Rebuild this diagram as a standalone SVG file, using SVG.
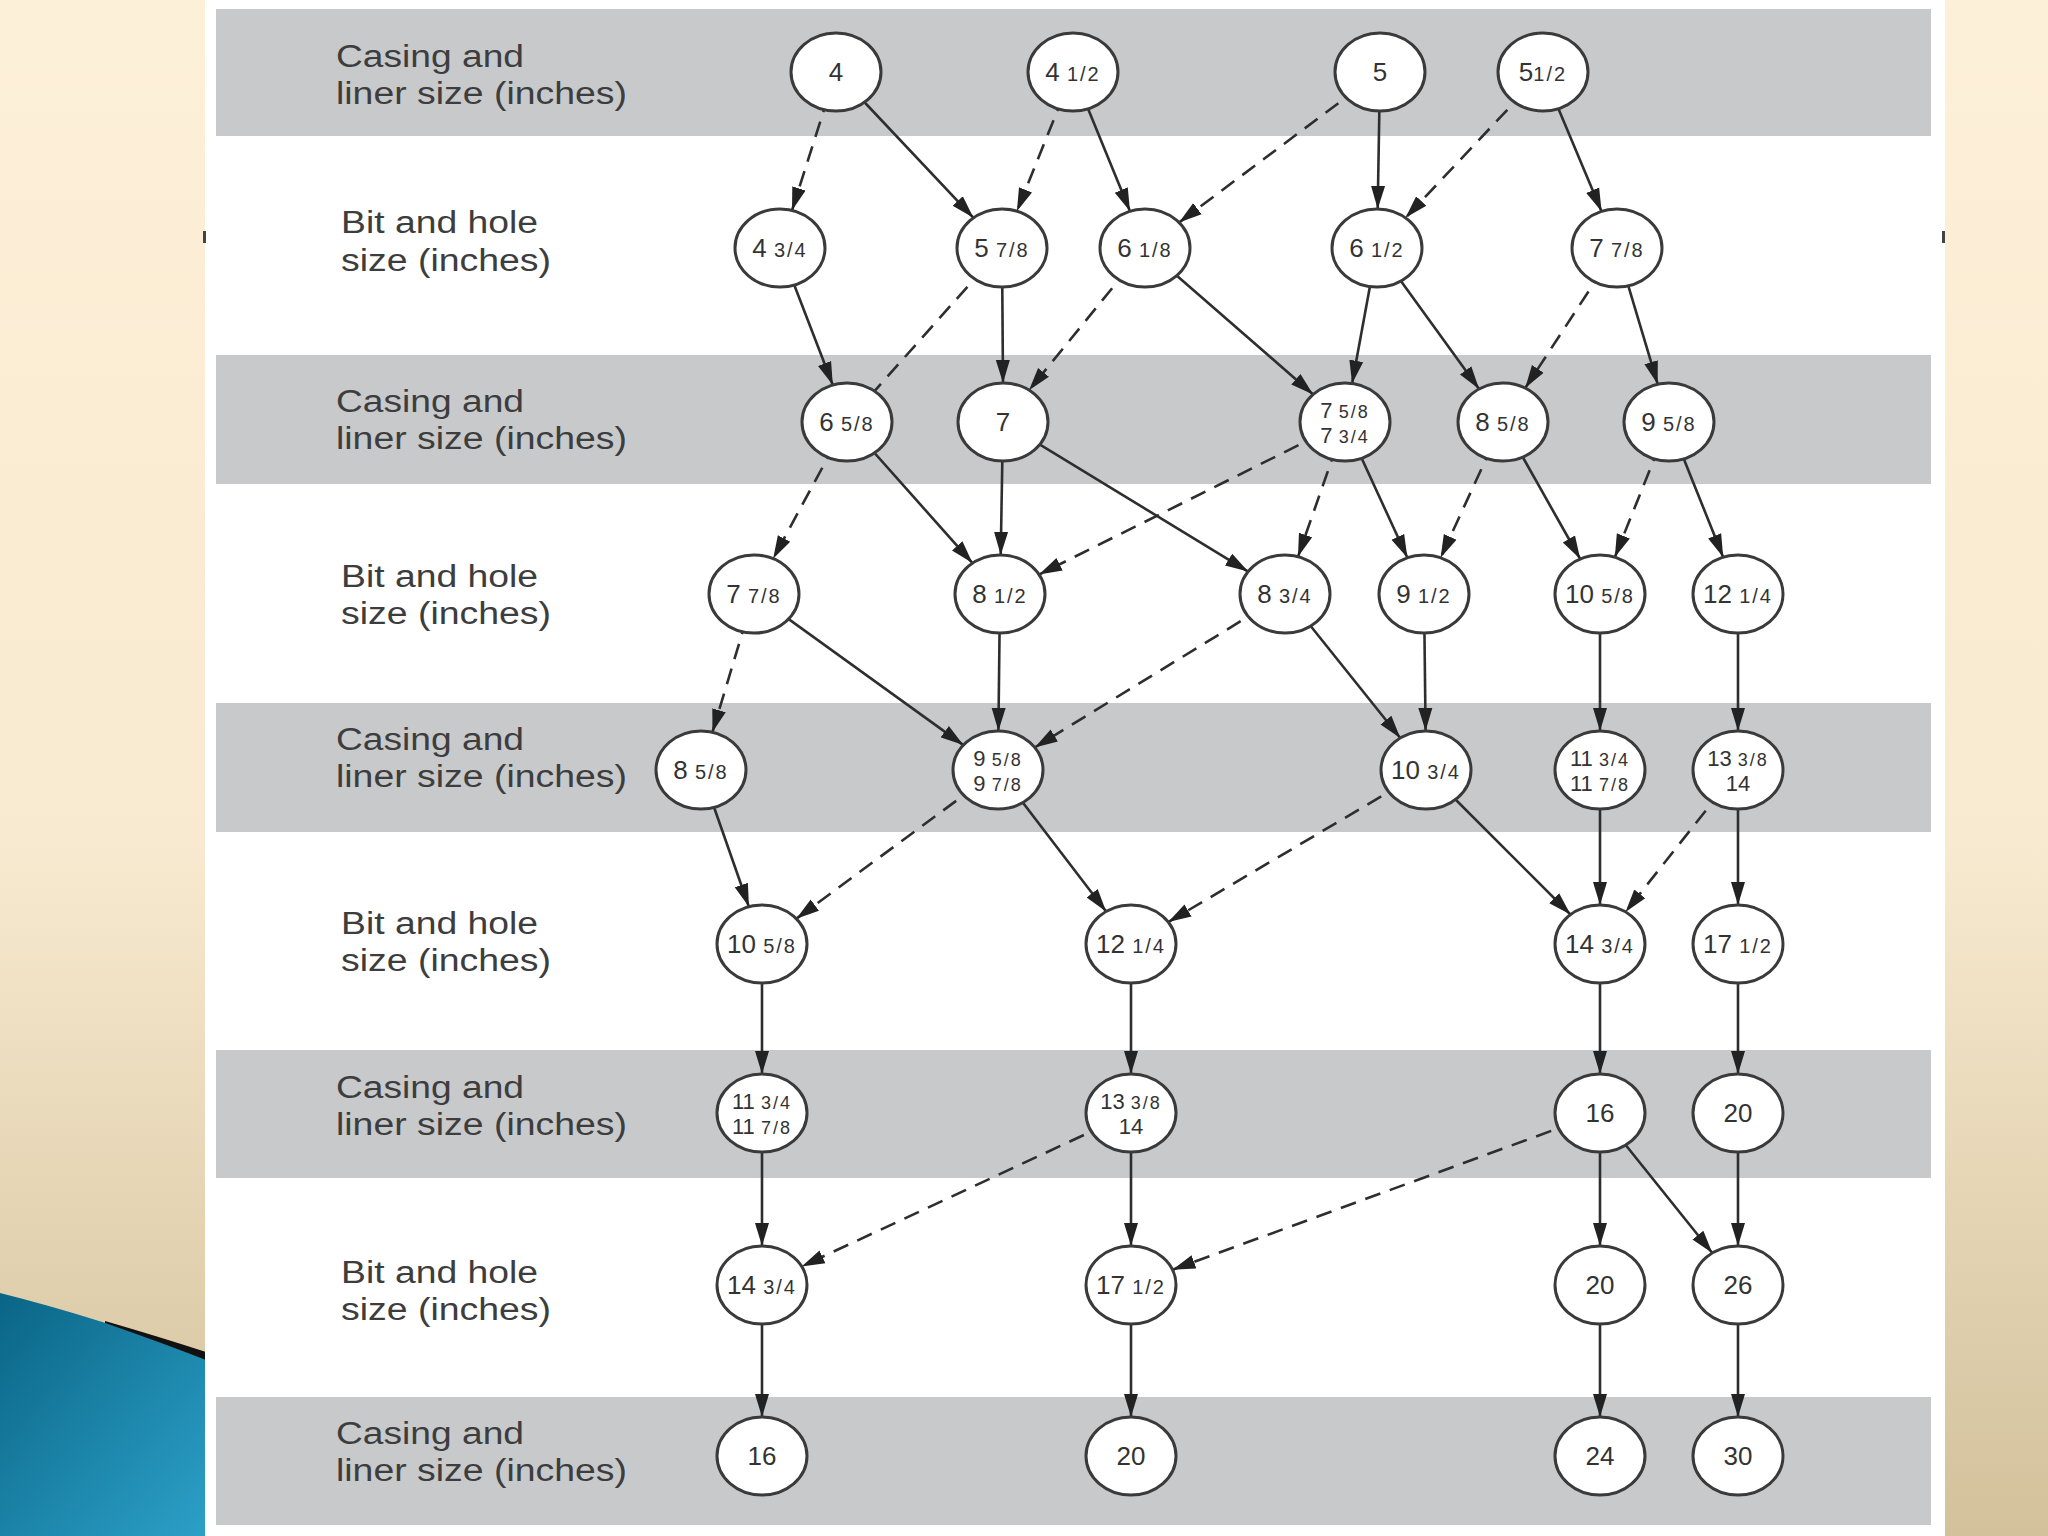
<svg xmlns="http://www.w3.org/2000/svg" width="2048" height="1536" viewBox="0 0 2048 1536">
<defs>
<linearGradient id="bg" x1="0" y1="0" x2="0" y2="1">
<stop offset="0" stop-color="#FDF0D8"/><stop offset="0.55" stop-color="#F8EAD0"/><stop offset="1" stop-color="#D3C19B"/>
</linearGradient>
<linearGradient id="blue" x1="0" y1="0" x2="1" y2="1">
<stop offset="0" stop-color="#0A6586"/><stop offset="1" stop-color="#2CA0C8"/>
</linearGradient>
<marker id="ah" markerUnits="userSpaceOnUse" markerWidth="24" markerHeight="16" viewBox="0 0 24 16" refX="23" refY="8" orient="auto">
<path d="M0,1 L23,8 L0,15 Z" fill="#222"/>
</marker>
<style>
.band{fill:#c8c9cb}
.nd{fill:#fff;stroke:#3a3a3a;stroke-width:3}
.nt{font-family:"Liberation Sans",Arial,sans-serif;font-size:26px;fill:#333;text-anchor:middle}
.nt2{font-family:"Liberation Sans",Arial,sans-serif;font-size:22px;fill:#333;text-anchor:middle}
.fr{font-size:20px;letter-spacing:2px}
.fr2{font-size:18px;letter-spacing:2px}
.lb{font-family:"Liberation Sans",Arial,sans-serif;font-size:31px;fill:#3d3d3d}
.e{fill:none;stroke:#2e2e2e;stroke-width:2.6;marker-end:url(#ah)}
.d{stroke-dasharray:16 10}
.nm{marker-end:none}
</style>
</defs>
<rect width="2048" height="1536" fill="url(#bg)"/>
<path d="M0,1293 Q100,1318 206,1358 L206,1536 L0,1536 Z" fill="url(#blue)"/>
<path d="M105,1321 Q160,1337 206,1352 L206,1360 Q160,1342 105,1323 Z" fill="#111"/>
<rect x="205" y="0" width="1740" height="1536" fill="#fff"/>
<rect x="203" y="231" width="3" height="12" fill="#444"/>
<rect x="1942" y="231" width="3" height="12" fill="#444"/>
<g id="bands">
<rect class="band" x="216" y="9" width="1715" height="127"/>
<rect class="band" x="216" y="355" width="1715" height="129"/>
<rect class="band" x="216" y="703" width="1715" height="129"/>
<rect class="band" x="216" y="1050" width="1715" height="128"/>
<rect class="band" x="216" y="1397" width="1715" height="128"/>
</g>
<g id="labels">
<text class="lb" x="336" y="67" textLength="188" lengthAdjust="spacingAndGlyphs">Casing and</text>
<text class="lb" x="336" y="104" textLength="291" lengthAdjust="spacingAndGlyphs">liner size (inches)</text>
<text class="lb" x="341" y="233" textLength="197" lengthAdjust="spacingAndGlyphs">Bit and hole</text>
<text class="lb" x="341" y="271" textLength="210" lengthAdjust="spacingAndGlyphs">size (inches)</text>
<text class="lb" x="336" y="412" textLength="188" lengthAdjust="spacingAndGlyphs">Casing and</text>
<text class="lb" x="336" y="449" textLength="291" lengthAdjust="spacingAndGlyphs">liner size (inches)</text>
<text class="lb" x="341" y="587" textLength="197" lengthAdjust="spacingAndGlyphs">Bit and hole</text>
<text class="lb" x="341" y="624" textLength="210" lengthAdjust="spacingAndGlyphs">size (inches)</text>
<text class="lb" x="336" y="750" textLength="188" lengthAdjust="spacingAndGlyphs">Casing and</text>
<text class="lb" x="336" y="787" textLength="291" lengthAdjust="spacingAndGlyphs">liner size (inches)</text>
<text class="lb" x="341" y="934" textLength="197" lengthAdjust="spacingAndGlyphs">Bit and hole</text>
<text class="lb" x="341" y="971" textLength="210" lengthAdjust="spacingAndGlyphs">size (inches)</text>
<text class="lb" x="336" y="1098" textLength="188" lengthAdjust="spacingAndGlyphs">Casing and</text>
<text class="lb" x="336" y="1135" textLength="291" lengthAdjust="spacingAndGlyphs">liner size (inches)</text>
<text class="lb" x="341" y="1283" textLength="197" lengthAdjust="spacingAndGlyphs">Bit and hole</text>
<text class="lb" x="341" y="1320" textLength="210" lengthAdjust="spacingAndGlyphs">size (inches)</text>
<text class="lb" x="336" y="1444" textLength="188" lengthAdjust="spacingAndGlyphs">Casing and</text>
<text class="lb" x="336" y="1481" textLength="291" lengthAdjust="spacingAndGlyphs">liner size (inches)</text>
</g>
<g id="connectors">
<path class="e d" d="M836,72 L792,210.4"/>
<path class="e" d="M836,72 L973.5,217.8"/>
<path class="e d" d="M1073,72 L1016.9,211.2"/>
<path class="e" d="M1073,72 L1130,211.3"/>
<path class="e d" d="M1380,72 L1179,222.5"/>
<path class="e" d="M1380,72 L1377.7,209"/>
<path class="e d" d="M1543,72 L1405.5,217.8"/>
<path class="e" d="M1543,72 L1601.6,211.4"/>
<path class="e" d="M780,248 L832.8,385"/>
<path class="e d nm" d="M1002,248 L874.5,391.1"/>
<path class="e" d="M1002,248 L1003,383"/>
<path class="e d" d="M1145,248 L1029,390.2"/>
<path class="e" d="M1145,248 L1313.2,394.4"/>
<path class="e" d="M1377,248 L1352.1,383.5"/>
<path class="e" d="M1377,248 L1479.1,389"/>
<path class="e d" d="M1617,248 L1525.2,388.1"/>
<path class="e" d="M1617,248 L1657.7,384.2"/>
<path class="e d" d="M847,422 L773.1,558.7"/>
<path class="e" d="M847,422 L972.5,563.1"/>
<path class="e" d="M1003,422 L1000.7,555"/>
<path class="e" d="M1003,422 L1248.2,571.6"/>
<path class="e d" d="M1345,422 L1039,574.6"/>
<path class="e d" d="M1345,422 L1298,556.7"/>
<path class="e" d="M1345,422 L1407.4,557.8"/>
<path class="e d" d="M1503,422 L1440.6,557.8"/>
<path class="e" d="M1503,422 L1580.2,559"/>
<path class="e d" d="M1669,422 L1614.8,557.2"/>
<path class="e" d="M1669,422 L1723.2,557.2"/>
<path class="e d" d="M754,594 L712.4,732.3"/>
<path class="e" d="M754,594 L963.4,745.1"/>
<path class="e" d="M1000,594 L998.4,731"/>
<path class="e d" d="M1285,594 L1034.7,747.5"/>
<path class="e" d="M1285,594 L1400.3,738"/>
<path class="e" d="M1424,594 L1425.6,731"/>
<path class="e" d="M1600,594 L1600,731"/>
<path class="e" d="M1738,594 L1738,731"/>
<path class="e" d="M701,770 L748.9,906.7"/>
<path class="e d" d="M998,770 L796.3,918.7"/>
<path class="e" d="M998,770 L1106.1,911.5"/>
<path class="e d" d="M1426,770 L1168.2,922.1"/>
<path class="e" d="M1426,770 L1570.5,914.5"/>
<path class="e" d="M1600,770 L1600,905"/>
<path class="e d" d="M1738,770 L1625.5,911.9"/>
<path class="e" d="M1738,770 L1738,905"/>
<path class="e" d="M762,944 L762,1074"/>
<path class="e" d="M1131,944 L1131,1074"/>
<path class="e" d="M1600,944 L1600,1074"/>
<path class="e" d="M1738,944 L1738,1074"/>
<path class="e" d="M762,1113 L762,1246"/>
<path class="e d" d="M1131,1113 L801.6,1266.5"/>
<path class="e" d="M1131,1113 L1131,1246"/>
<path class="e d" d="M1600,1113 L1172.4,1269.8"/>
<path class="e" d="M1600,1113 L1600,1246"/>
<path class="e" d="M1600,1113 L1712.3,1253"/>
<path class="e" d="M1738,1113 L1738,1246"/>
<path class="e" d="M762,1285 L762,1417"/>
<path class="e" d="M1131,1285 L1131,1417"/>
<path class="e" d="M1600,1285 L1600,1417"/>
<path class="e" d="M1738,1285 L1738,1417"/>
</g>
<g id="nodes">
<g id="n-c0-4"><ellipse class="nd" cx="836" cy="72" rx="45" ry="39"/><text class="nt" x="836" y="81">4</text></g>
<g id="n-c0-4h"><ellipse class="nd" cx="1073" cy="72" rx="45" ry="39"/><text class="nt" x="1073" y="81">4 <tspan class="fr">1/2</tspan></text></g>
<g id="n-c0-5"><ellipse class="nd" cx="1380" cy="72" rx="45" ry="39"/><text class="nt" x="1380" y="81">5</text></g>
<g id="n-c0-5h"><ellipse class="nd" cx="1543" cy="72" rx="45" ry="39"/><text class="nt" x="1543" y="81">5<tspan class="fr">1/2</tspan></text></g>

<g id="n-b1-434"><ellipse class="nd" cx="780" cy="248" rx="45" ry="39"/><text class="nt" x="780" y="257">4 <tspan class="fr">3/4</tspan></text></g>
<g id="n-b1-578"><ellipse class="nd" cx="1002" cy="248" rx="45" ry="39"/><text class="nt" x="1002" y="257">5 <tspan class="fr">7/8</tspan></text></g>
<g id="n-b1-618"><ellipse class="nd" cx="1145" cy="248" rx="45" ry="39"/><text class="nt" x="1145" y="257">6 <tspan class="fr">1/8</tspan></text></g>
<g id="n-b1-612"><ellipse class="nd" cx="1377" cy="248" rx="45" ry="39"/><text class="nt" x="1377" y="257">6 <tspan class="fr">1/2</tspan></text></g>
<g id="n-b1-778"><ellipse class="nd" cx="1617" cy="248" rx="45" ry="39"/><text class="nt" x="1617" y="257">7 <tspan class="fr">7/8</tspan></text></g>

<g id="n-c2-658"><ellipse class="nd" cx="847" cy="422" rx="45" ry="39"/><text class="nt" x="847" y="431">6 <tspan class="fr">5/8</tspan></text></g>
<g id="n-c2-7"><ellipse class="nd" cx="1003" cy="422" rx="45" ry="39"/><text class="nt" x="1003" y="431">7</text></g>
<g id="n-c2-758"><ellipse class="nd" cx="1345" cy="422" rx="45" ry="39"/><text class="nt2" x="1345" y="418">7 <tspan class="fr2">5/8</tspan></text><text class="nt2" x="1345" y="443">7 <tspan class="fr2">3/4</tspan></text></g>
<g id="n-c2-858"><ellipse class="nd" cx="1503" cy="422" rx="45" ry="39"/><text class="nt" x="1503" y="431">8 <tspan class="fr">5/8</tspan></text></g>
<g id="n-c2-958"><ellipse class="nd" cx="1669" cy="422" rx="45" ry="39"/><text class="nt" x="1669" y="431">9 <tspan class="fr">5/8</tspan></text></g>

<g id="n-b3-778"><ellipse class="nd" cx="754" cy="594" rx="45" ry="39"/><text class="nt" x="754" y="603">7 <tspan class="fr">7/8</tspan></text></g>
<g id="n-b3-812"><ellipse class="nd" cx="1000" cy="594" rx="45" ry="39"/><text class="nt" x="1000" y="603">8 <tspan class="fr">1/2</tspan></text></g>
<g id="n-b3-834"><ellipse class="nd" cx="1285" cy="594" rx="45" ry="39"/><text class="nt" x="1285" y="603">8 <tspan class="fr">3/4</tspan></text></g>
<g id="n-b3-912"><ellipse class="nd" cx="1424" cy="594" rx="45" ry="39"/><text class="nt" x="1424" y="603">9 <tspan class="fr">1/2</tspan></text></g>
<g id="n-b3-1058"><ellipse class="nd" cx="1600" cy="594" rx="45" ry="39"/><text class="nt" x="1600" y="603">10 <tspan class="fr">5/8</tspan></text></g>
<g id="n-b3-1214"><ellipse class="nd" cx="1738" cy="594" rx="45" ry="39"/><text class="nt" x="1738" y="603">12 <tspan class="fr">1/4</tspan></text></g>

<g id="n-c4-858"><ellipse class="nd" cx="701" cy="770" rx="45" ry="39"/><text class="nt" x="701" y="779">8 <tspan class="fr">5/8</tspan></text></g>
<g id="n-c4-958"><ellipse class="nd" cx="998" cy="770" rx="45" ry="39"/><text class="nt2" x="998" y="766">9 <tspan class="fr2">5/8</tspan></text><text class="nt2" x="998" y="791">9 <tspan class="fr2">7/8</tspan></text></g>
<g id="n-c4-1034"><ellipse class="nd" cx="1426" cy="770" rx="45" ry="39"/><text class="nt" x="1426" y="779">10 <tspan class="fr">3/4</tspan></text></g>
<g id="n-c4-1134"><ellipse class="nd" cx="1600" cy="770" rx="45" ry="39"/><text class="nt2" x="1600" y="766">11 <tspan class="fr2">3/4</tspan></text><text class="nt2" x="1600" y="791">11 <tspan class="fr2">7/8</tspan></text></g>
<g id="n-c4-1338"><ellipse class="nd" cx="1738" cy="770" rx="45" ry="39"/><text class="nt2" x="1738" y="766">13 <tspan class="fr2">3/8</tspan></text><text class="nt2" x="1738" y="791">14</text></g>

<g id="n-b5-1058"><ellipse class="nd" cx="762" cy="944" rx="45" ry="39"/><text class="nt" x="762" y="953">10 <tspan class="fr">5/8</tspan></text></g>
<g id="n-b5-1214"><ellipse class="nd" cx="1131" cy="944" rx="45" ry="39"/><text class="nt" x="1131" y="953">12 <tspan class="fr">1/4</tspan></text></g>
<g id="n-b5-1434"><ellipse class="nd" cx="1600" cy="944" rx="45" ry="39"/><text class="nt" x="1600" y="953">14 <tspan class="fr">3/4</tspan></text></g>
<g id="n-b5-1712"><ellipse class="nd" cx="1738" cy="944" rx="45" ry="39"/><text class="nt" x="1738" y="953">17 <tspan class="fr">1/2</tspan></text></g>

<g id="n-c6-1134"><ellipse class="nd" cx="762" cy="1113" rx="45" ry="39"/><text class="nt2" x="762" y="1109">11 <tspan class="fr2">3/4</tspan></text><text class="nt2" x="762" y="1134">11 <tspan class="fr2">7/8</tspan></text></g>
<g id="n-c6-1338"><ellipse class="nd" cx="1131" cy="1113" rx="45" ry="39"/><text class="nt2" x="1131" y="1109">13 <tspan class="fr2">3/8</tspan></text><text class="nt2" x="1131" y="1134">14</text></g>
<g id="n-c6-16"><ellipse class="nd" cx="1600" cy="1113" rx="45" ry="39"/><text class="nt" x="1600" y="1122">16</text></g>
<g id="n-c6-20"><ellipse class="nd" cx="1738" cy="1113" rx="45" ry="39"/><text class="nt" x="1738" y="1122">20</text></g>

<g id="n-b7-1434"><ellipse class="nd" cx="762" cy="1285" rx="45" ry="39"/><text class="nt" x="762" y="1294">14 <tspan class="fr">3/4</tspan></text></g>
<g id="n-b7-1712"><ellipse class="nd" cx="1131" cy="1285" rx="45" ry="39"/><text class="nt" x="1131" y="1294">17 <tspan class="fr">1/2</tspan></text></g>
<g id="n-b7-20"><ellipse class="nd" cx="1600" cy="1285" rx="45" ry="39"/><text class="nt" x="1600" y="1294">20</text></g>
<g id="n-b7-26"><ellipse class="nd" cx="1738" cy="1285" rx="45" ry="39"/><text class="nt" x="1738" y="1294">26</text></g>

<g id="n-c8-16"><ellipse class="nd" cx="762" cy="1456" rx="45" ry="39"/><text class="nt" x="762" y="1465">16</text></g>
<g id="n-c8-20"><ellipse class="nd" cx="1131" cy="1456" rx="45" ry="39"/><text class="nt" x="1131" y="1465">20</text></g>
<g id="n-c8-24"><ellipse class="nd" cx="1600" cy="1456" rx="45" ry="39"/><text class="nt" x="1600" y="1465">24</text></g>
<g id="n-c8-30"><ellipse class="nd" cx="1738" cy="1456" rx="45" ry="39"/><text class="nt" x="1738" y="1465">30</text></g>
</g>
</svg>
